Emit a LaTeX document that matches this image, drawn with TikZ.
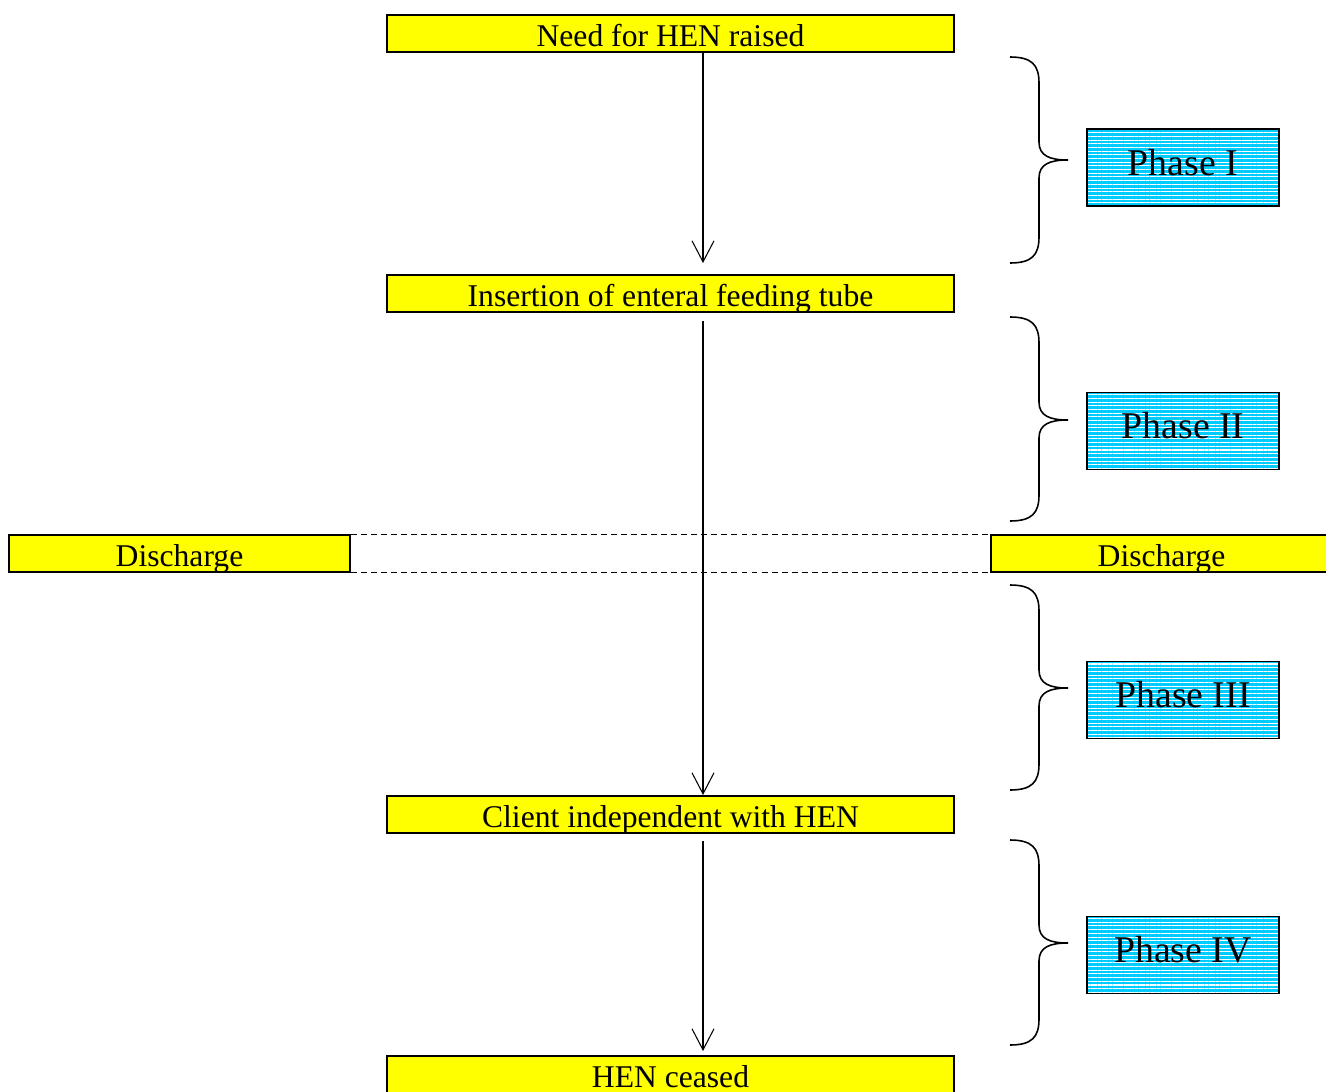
\documentclass[tikz,border=0pt]{standalone}
\usepackage{fontspec}
\setmainfont{Liberation Serif}
\usetikzlibrary{arrows.meta,patterns.meta}

\definecolor{boxyellow}{RGB}{255,255,0}
\definecolor{phasecyan}{RGB}{0,204,255}

\tikzset{
  stage/.style={draw=black, line width=1.1pt, fill=boxyellow, inner sep=0pt,
                minimum width=11.34cm, minimum height=0.74cm,
                text height=14.4pt, text depth=0pt,
                font=\fontsize{18}{20}\selectfont},
  leave/.style={stage, minimum width=6.82cm},
  phase/.style={draw=black, line width=1.1pt, inner sep=0pt,
                minimum width=3.84cm, minimum height=1.54cm,
                preaction={fill=phasecyan},
                pattern={Lines[angle=0, distance=2.1pt, line width=0.6pt]},
                pattern color=white,
                text height=15pt, text depth=6.4pt,
                font=\fontsize{21.5}{24}\selectfont},
  flow/.style={line width=0.6pt, -{Straight Barb[length=12pt, width=12.5pt]}},
  gap/.style={line width=0.6pt, dash pattern=on 3.4pt off 2.3pt},
  curly/.style={line width=0.9pt}
}

% brace between two y values (pixel units), tip at the middle
\newcommand{\phbrace}[3]{%
  \draw[curly] (1010,#1) .. controls (1032,#1) and (1039,#1+8) .. (1039,#1+26)
    -- (1039,#2-18) .. controls (1039,#2-4) and (1050,#2) .. (1068,#2)
    .. controls (1050,#2) and (1039,#2+4) .. (1039,#2+18)
    -- (1039,#3-26) .. controls (1039,#3-8) and (1032,#3) .. (1010,#3);}

\begin{document}
\begin{tikzpicture}[x=0.02cm, y=-0.02cm]
  \useasboundingbox (0,0) rectangle (1326,1092);

  % main steps
  \node[stage] (need)   at (670.5,33.5)  {Need for HEN raised};
  \node[stage] (insert) at (670.5,293.5) {Insertion of enteral feeding tube};
  \node[stage] (client) at (670.5,814.5) {Client independent with HEN};
  \node[stage] (ceased) at (670.5,1074.5) {HEN ceased};

  % discharge boxes
  \node[leave] (disL) at (179.5,553.5)  {Discharge};
  \node[leave] (disR) at (1161.5,553.5) {Discharge};
  \draw[gap] (disL.north east) -- (disR.north west);
  \draw[gap] (disL.south east) -- (disR.south west);

  % arrows
  \coordinate (axis) at (703,0);
  \draw[flow] (need.south -| axis) -- ([yshift=0.22cm]insert.north -| axis);
  \draw[flow] ([yshift=-0.16cm]insert.south -| axis) -- (client.north -| axis);
  \draw[flow] ([yshift=-0.14cm]client.south -| axis) -- ([yshift=0.08cm]ceased.north -| axis);

  % phases
  \node[phase] (p1) at (1183,167.5) {Phase I};
  \node[phase] (p2) at (1183,431)   {Phase II};
  \node[phase] (p3) at (1183,700)   {Phase III};
  \node[phase] (p4) at (1183,955)   {Phase IV};

  \phbrace{57}{160}{263}
  \phbrace{317}{420}{521}
  \phbrace{585}{688}{790}
  \phbrace{840}{943}{1045}
\end{tikzpicture}
\end{document}
